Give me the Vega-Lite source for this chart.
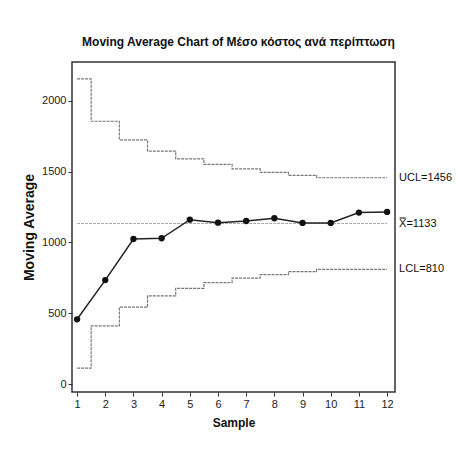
{
  "$schema": "https://vega.github.io/schema/vega-lite/v6.json",
  "autosize": {"type": "none"},
  "width": 323,
  "height": 330,
  "padding": {"left": 72, "top": 62, "right": 63, "bottom": 59},
  "background": "#ffffff",
  "title": {
    "text": "Moving Average Chart of Μέσο κόστος ανά περίπτωση",
    "font": "Liberation Sans",
    "fontSize": 12,
    "fontWeight": "bold",
    "color": "#111111",
    "anchor": "middle",
    "dx": 5,
    "offset": 13
  },
  "config": {
    "view": {"stroke": "#333333", "strokeWidth": 1.5},
    "axis": {
      "labelFont": "Liberation Sans",
      "titleFont": "Liberation Sans",
      "labelFontSize": 11,
      "titleFontSize": 12,
      "titleFontWeight": "bold",
      "labelColor": "#222222",
      "titleColor": "#111111",
      "tickColor": "#333333",
      "domain": false,
      "grid": false,
      "tickSize": 4
    }
  },
  "data": {
    "values": [
      {"sample": 1, "ma": 457, "ucl": 2154, "lcl": 112, "center": 1133},
      {"sample": 2, "ma": 734, "ucl": 1855, "lcl": 411, "center": 1133},
      {"sample": 3, "ma": 1024, "ucl": 1723, "lcl": 543, "center": 1133},
      {"sample": 4, "ma": 1029, "ucl": 1644, "lcl": 622, "center": 1133},
      {"sample": 5, "ma": 1160, "ucl": 1590, "lcl": 676, "center": 1133},
      {"sample": 6, "ma": 1139, "ucl": 1550, "lcl": 716, "center": 1133},
      {"sample": 7, "ma": 1151, "ucl": 1519, "lcl": 747, "center": 1133},
      {"sample": 8, "ma": 1170, "ucl": 1494, "lcl": 772, "center": 1133},
      {"sample": 9, "ma": 1137, "ucl": 1473, "lcl": 793, "center": 1133},
      {"sample": 10, "ma": 1137, "ucl": 1456, "lcl": 810, "center": 1133},
      {"sample": 11, "ma": 1210, "ucl": 1456, "lcl": 810, "center": 1133},
      {"sample": 12, "ma": 1215, "ucl": 1456, "lcl": 810, "center": 1133}
    ]
  },
  "encoding": {
    "x": {
      "field": "sample",
      "type": "quantitative",
      "scale": {"domain": [0.82, 12.28], "nice": false, "zero": false},
      "axis": {"title": "Sample", "values": [1,2,3,4,5,6,7,8,9,10,11,12], "format": "d", "labelPadding": 2, "titlePadding": 8}
    }
  },
  "layer": [
    {
      "mark": {"type": "line", "interpolate": "step", "color": "#777777", "strokeWidth": 1.2, "strokeDash": [3, 1]},
      "encoding": {
        "y": {
          "field": "ucl",
          "type": "quantitative",
          "scale": {"domain": [-56, 2273], "nice": false, "zero": false},
          "axis": {"title": "Moving Average", "titleFontSize": 14, "values": [0, 500, 1000, 1500, 2000], "format": "d", "labelPadding": 2, "titlePadding": 5}
        }
      }
    },
    {
      "mark": {"type": "line", "interpolate": "step", "color": "#777777", "strokeWidth": 1.2, "strokeDash": [3, 1]},
      "encoding": {"y": {"field": "lcl", "type": "quantitative"}}
    },
    {
      "mark": {"type": "line", "color": "#aaaaaa", "strokeWidth": 1, "strokeDash": [3, 1]},
      "encoding": {"y": {"field": "center", "type": "quantitative"}}
    },
    {
      "mark": {"type": "line", "color": "#222222", "strokeWidth": 1.5, "point": {"filled": true, "color": "#111111", "size": 40}},
      "encoding": {"y": {"field": "ma", "type": "quantitative"}}
    },
    {
      "data": {
        "values": [
          {"sample": 12, "label": "UCL=1456", "v": 1456},
          {"sample": 12, "label": "X̿=1133", "v": 1133},
          {"sample": 12, "label": "LCL=810", "v": 810}
        ]
      },
      "mark": {"type": "text", "align": "left", "baseline": "middle", "dx": 12, "font": "Liberation Sans", "fontSize": 11, "color": "#111111"},
      "encoding": {
        "y": {"field": "v", "type": "quantitative"},
        "text": {"field": "label"}
      }
    }
  ]
}
